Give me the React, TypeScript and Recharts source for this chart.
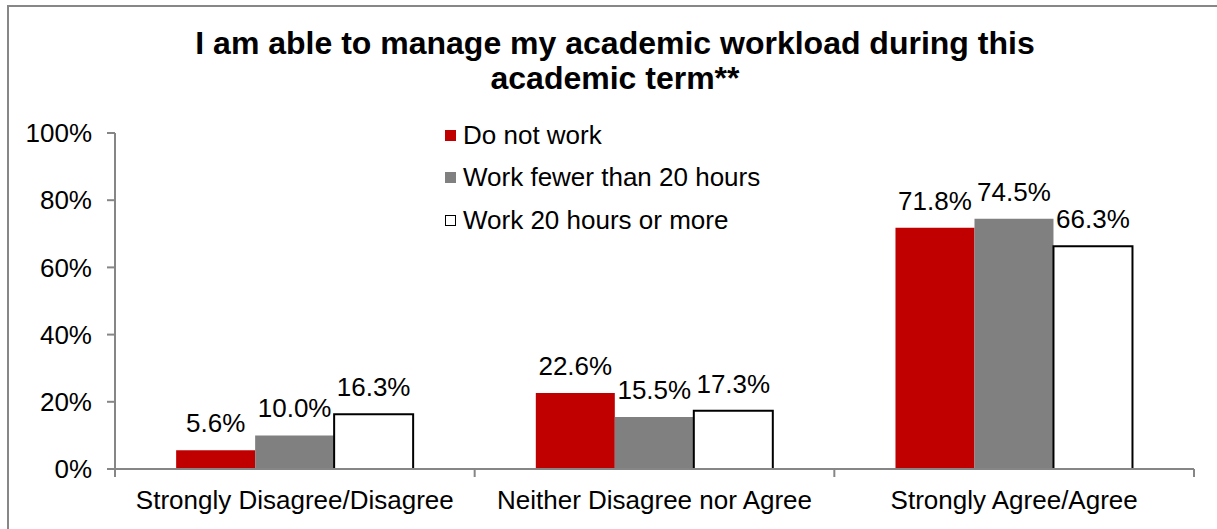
import React from "react";
import { BarChart, Bar, XAxis, YAxis, LabelList, Legend } from "recharts";

const categories = ["Strongly Disagree/Disagree", "Neither Disagree nor Agree", "Strongly Agree/Agree"];
const seriesNames = ["Do not work", "Work fewer than 20 hours", "Work 20 hours or more"];
const doNotWork = [5.6, 22.6, 71.8];
const fewerThan20 = [10.0, 15.5, 74.5];
const twentyOrMore = [16.3, 17.3, 66.3];
const yTicks = [0, 20, 40, 60, 80, 100];

const FONT = "'Liberation Sans', Arial, sans-serif";
const AXIS = "#868686";
const X_TICK_MARGIN = 16;
const X_TICK_SIZE = 6;

const data = categories.map((c, i) => ({
  category: c,
  a: doNotWork[i],
  b: fewerThan20[i],
  c: twentyOrMore[i],
}));

const pct = (v: any) => `${Number(v).toFixed(1)}%`;

// category label plus Excel-style tick marks on the category boundaries
function CategoryTick(props: any) {
  const { x, y, payload, index, visibleTicksCount } = props;
  const half = payload.offset || 0;
  const axisY = y - X_TICK_MARGIN - X_TICK_SIZE;
  const last = index === (visibleTicksCount ?? categories.length) - 1;
  return (
    <g>
      <line x1={x - half} x2={x - half} y1={axisY} y2={axisY + 8} stroke={AXIS} strokeWidth={2} />
      {last && <line x1={x + half} x2={x + half} y1={axisY} y2={axisY + 8} stroke={AXIS} strokeWidth={2} />}
      <text x={x} y={y} dy="0.71em" textAnchor="middle" fill="#000" fontSize={26} fontFamily={FONT}>
        {payload.value}
      </text>
    </g>
  );
}

function LegendBox(props: any) {
  const items = [...(props.payload || [])].sort(
    (p: any, q: any) => seriesNames.indexOf(p.value) - seriesNames.indexOf(q.value)
  );
  return (
    <div style={{ fontFamily: FONT, fontSize: 26, color: "#000" }}>
      {items.map((it: any) => (
        <div key={it.value} style={{ display: "flex", alignItems: "center", height: 42.5 }}>
          <span
            style={{
              display: "inline-block",
              width: 11,
              height: 11,
              boxSizing: "border-box",
              background: it.payload.fill,
              border: it.payload.stroke === "#000" ? "1.5px solid #000" : "none",
              marginRight: 7,
            }}
          />
          <span>{it.value}</span>
        </div>
      ))}
    </div>
  );
}

export default function App() {
  return (
    <div style={{ position: "fixed", left: 0, top: 0, width: 1217, height: 529, overflow: "hidden", background: "#fff" }}>
      <style>{"html,body{margin:0;padding:0;overflow:hidden}"}</style>
      <div style={{ position: "absolute", left: 7, top: 5, width: 2, height: 524, background: "#878787" }} />
      <div style={{ position: "absolute", left: 7, top: 5, width: 1210, height: 2, background: "#878787" }} />
      <div
        style={{
          position: "absolute",
          left: 0,
          top: 26,
          width: 1230,
          textAlign: "center",
          fontFamily: FONT,
          fontWeight: "bold",
          fontSize: 32,
          lineHeight: "35px",
        }}
      >
        I am able to manage my academic workload during this
        <br />
        academic term**
      </div>
      <BarChart
        width={1217}
        height={529}
        data={data}
        margin={{ top: 133, right: 23, bottom: 0, left: 0 }}
        barGap={0}
        barCategoryGap="17%"
        style={{ position: "absolute", left: 0, top: 0, fontFamily: FONT }}
      >
        <XAxis
          dataKey="category"
          height={60}
          interval={0}
          tickLine={false}
          tickSize={X_TICK_SIZE}
          tickMargin={X_TICK_MARGIN}
          axisLine={{ stroke: AXIS, strokeWidth: 2 }}
          tick={<CategoryTick />}
        />
        <YAxis
          domain={[0, 100]}
          ticks={yTicks}
          width={115}
          tickFormatter={(v) => `${v}%`}
          tickSize={8}
          tickMargin={15}
          axisLine={{ stroke: AXIS, strokeWidth: 2 }}
          tickLine={{ stroke: AXIS, strokeWidth: 2 }}
          tick={{ fill: "#000", fontSize: 26, fontFamily: FONT }}
        />
        <Legend
          layout="horizontal"
          verticalAlign="middle"
          align="center"
          content={<LegendBox />}
          wrapperStyle={{ position: "absolute", left: 445, top: 114, width: 400 }}
        />
        <Bar dataKey="a" name={seriesNames[0]} fill="#C00000" isAnimationActive={false}>
          <LabelList dataKey="a" position="top" offset={18} formatter={pct} fill="#000" fontSize={26} fontFamily={FONT} />
        </Bar>
        <Bar dataKey="b" name={seriesNames[1]} fill="#808080" isAnimationActive={false}>
          <LabelList dataKey="b" position="top" offset={18} formatter={pct} fill="#000" fontSize={26} fontFamily={FONT} />
        </Bar>
        <Bar dataKey="c" name={seriesNames[2]} fill="#FFFFFF" stroke="#000" strokeWidth={2} isAnimationActive={false}>
          <LabelList dataKey="c" position="top" offset={18} formatter={pct} fill="#000" fontSize={26} fontFamily={FONT} />
        </Bar>
      </BarChart>
    </div>
  );
}
